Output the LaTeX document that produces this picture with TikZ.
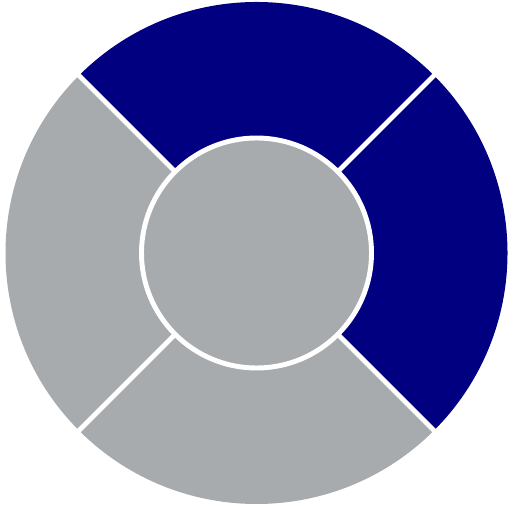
\documentclass[tikz,border=0pt]{standalone}
\usetikzlibrary{calc}
\definecolor{ringnavy}{HTML}{000080}
\definecolor{ringgray}{HTML}{A7ABAE}
\begin{document}
\begin{tikzpicture}[
    gap/.style={draw=white,line width=2.8pt},
    hub/.style={gap,fill=ringgray}]
  \useasboundingbox (0,0) rectangle (10.2,10.2);
  \coordinate (c) at (5.13,5.14);
  % four ring sectors
  \foreach \a/\col in {-45/ringnavy,45/ringnavy,135/ringgray,225/ringgray}
    \fill[\col] (c) -- ++(\a:5.02) arc[start angle=\a,end angle=\a+90,radius=5.02] -- cycle;
  % white gaps between sectors
  \foreach \a in {45,135}
    \draw[gap] ($(c)+(\a:5.2)$) -- ($(c)+(\a+180:5.2)$);
  % centre disc
  \draw[hub] (c) circle (2.3);
\end{tikzpicture}
\end{document}
